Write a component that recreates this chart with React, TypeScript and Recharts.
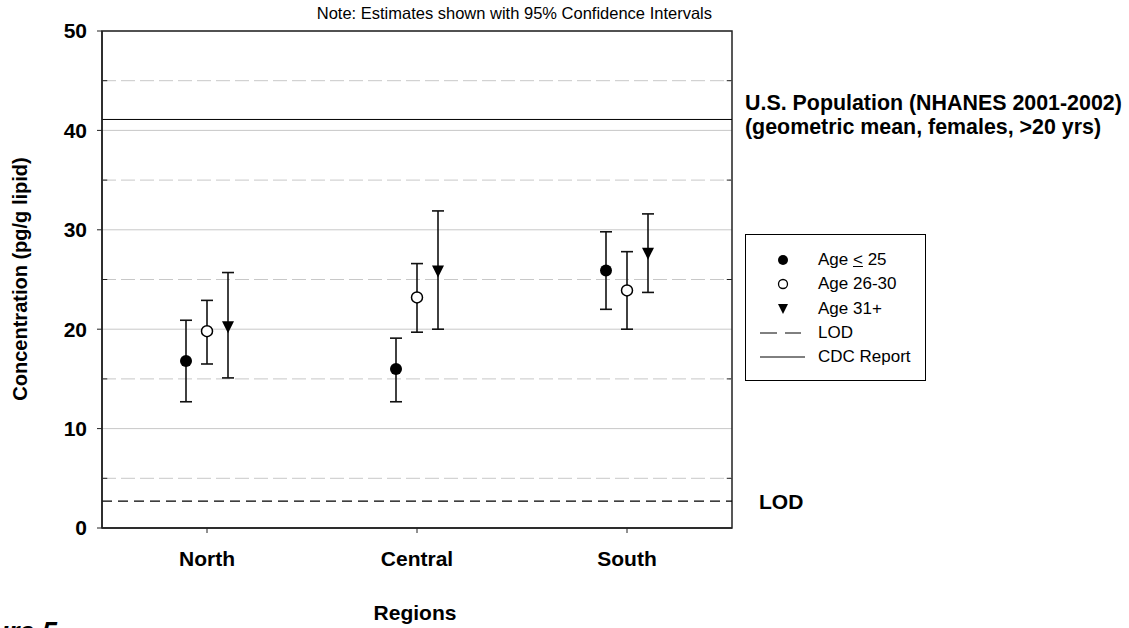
import {
  ComposedChart,
  Scatter,
  ErrorBar,
  XAxis,
  YAxis,
  CartesianGrid,
  ReferenceLine,
  ReferenceArea,
  Legend,
} from "recharts";

const FONT = "'Liberation Sans', Arial, Helvetica, sans-serif";

// categories on the x axis (placed at 1, 2, 3)
const regions = ["North", "Central", "South"];
const regionPositions = [1, 2, 3];

// Age <= 25: geometric mean with 95% CI
const age25Mean = [16.8, 16.0, 25.9];
const age25Low = [12.7, 12.7, 22.0];
const age25High = [20.9, 19.1, 29.8];

// Age 26-30
const age2630Mean = [19.8, 23.2, 23.9];
const age2630Low = [16.5, 19.7, 20.0];
const age2630High = [22.9, 26.6, 27.8];

// Age 31+
const age31Mean = [20.2, 25.8, 27.6];
const age31Low = [15.1, 20.0, 23.7];
const age31High = [25.7, 31.9, 31.6];

// reference values
const cdcReport = 41.1;
const lod = 2.7;

// axis ticks
const yTicks = [0, 10, 20, 30, 40, 50];
const yMinorTicks = [5, 15, 25, 35, 45];
const xDomain = [0.5, 3.5];
const minorTickLen = 0.025; // in x units (~5px)

const build = (mean: number[], low: number[], high: number[], offset: number) =>
  mean.map((m, i) => ({
    x: regionPositions[i] + offset,
    y: m,
    err: [m - low[i], high[i] - m],
  }));

const age25Data = build(age25Mean, age25Low, age25High, -0.1);
const age2630Data = build(age2630Mean, age2630Low, age2630High, 0);
const age31Data = build(age31Mean, age31Low, age31High, 0.1);

const FilledDot = (p: any) => <circle cx={p.cx} cy={p.cy} r={6} fill="#000" />;
const OpenDot = (p: any) => (
  <circle cx={p.cx} cy={p.cy} r={5.5} fill="#fff" stroke="#000" strokeWidth={1.5} />
);
const DownTriangle = (p: any) => (
  <path
    d={`M${p.cx - 6},${p.cy - 6}L${p.cx + 6},${p.cy - 6}L${p.cx},${p.cy + 6}Z`}
    fill="#000"
  />
);

const boldText = { fontFamily: FONT, fontSize: 21, fontWeight: "bold", fill: "#000" };

const CdcLabel = (props: any) => {
  const { x, y, width } = props.viewBox;
  return (
    <text x={x + width + 13} style={{ ...boldText, fontSize: 21.4 } as any}>
      <tspan x={x + width + 13} y={y - 9.5}>U.S. Population (NHANES 2001-2002)</tspan>
      <tspan x={x + width + 13} y={y + 14.5}>(geometric mean, females, &gt;20 yrs)</tspan>
    </text>
  );
};

const LodLabel = (props: any) => {
  const { x, y, width } = props.viewBox;
  return (
    <text x={x + width + 27} y={y + 7.5} style={boldText as any}>
      LOD
    </text>
  );
};

const legendRows = [
  { key: "a", icon: <circle cx={23} cy={12} r={5} fill="#000" />, label: <>Age <u>&lt;</u> 25</> },
  { key: "b", icon: <circle cx={23} cy={12} r={4.5} fill="#fff" stroke="#000" strokeWidth={1.3} />, label: <>Age 26-30</> },
  { key: "c", icon: <path d="M18,7L28,7L23,17Z" fill="#000" />, label: <>Age 31+</> },
  { key: "d", icon: <line x1={0} y1={12} x2={41} y2={12} stroke="#000" strokeDasharray="17 8" />, label: <>LOD</> },
  { key: "e", icon: <line x1={0} y1={12} x2={45} y2={12} stroke="#000" />, label: <>CDC Report</> },
];

const LegendBox = () => (
  <div
    style={{
      width: 181,
      height: 147,
      boxSizing: "border-box",
      border: "1px solid #000",
      background: "#fff",
      paddingTop: 13,
      fontFamily: FONT,
      fontSize: 17,
      color: "#000",
    }}
  >
    {legendRows.map((r) => (
      <div key={r.key} style={{ height: 24.3, display: "flex", alignItems: "center" }}>
        <svg width={46} height={24} style={{ marginLeft: 14, marginRight: 12 }}>
          {r.icon}
        </svg>
        <span style={{ whiteSpace: "nowrap" }}>{r.label}</span>
      </div>
    ))}
  </div>
);

export default function App() {
  return (
    <div style={{ position: "absolute", left: 0, top: 0, width: 1129, height: 628, background: "#fff" }}>
      <ComposedChart
        width={1129}
        height={628}
        margin={{ top: 31, right: 397, bottom: 40, left: 0 }}
      >
        <CartesianGrid vertical={false} stroke="#c8c8c8" />
        {yMinorTicks.map((v) => (
          <ReferenceLine key={v} y={v} stroke="#c8c8c8" strokeDasharray="14 5" />
        ))}
        {yMinorTicks.map((v) => (
          <ReferenceLine
            key={`l${v}`}
            segment={[{ x: xDomain[0], y: v }, { x: xDomain[0] + minorTickLen, y: v }]}
            stroke="#222"
          />
        ))}
        {yMinorTicks.map((v) => (
          <ReferenceLine
            key={`r${v}`}
            segment={[{ x: xDomain[1] - minorTickLen, y: v }, { x: xDomain[1], y: v }]}
            stroke="#222"
          />
        ))}
        <XAxis
          dataKey="x"
          type="number"
          domain={xDomain}
          ticks={regionPositions}
          tickFormatter={(v: number) => regions[v - 1]}
          allowDataOverflow
          height={60}
          tickSize={5}
          tickMargin={18}
          tick={boldText}
          axisLine={{ stroke: "#222", strokeWidth: 1.5 }}
          tickLine={{ stroke: "#222" }}
        />
        <YAxis
          dataKey="y"
          type="number"
          domain={[0, 50]}
          ticks={yTicks}
          width={102}
          tickSize={5}
          tickMargin={10}
          tick={boldText}
          axisLine={{ stroke: "#222", strokeWidth: 1.5 }}
          tickLine={{ stroke: "#222" }}
        />
        <ReferenceLine y={cdcReport} stroke="#000" label={<CdcLabel />} />
        <ReferenceLine y={lod} stroke="#000" strokeWidth={1.3} strokeDasharray="10 6" label={<LodLabel />} />
        <ReferenceArea x1={xDomain[0]} x2={xDomain[1]} y1={0} y2={50} fill="none" stroke="#222" strokeWidth={1.5} />
        <Scatter name="Age <= 25" data={age25Data} shape={FilledDot} isAnimationActive={false}>
          <ErrorBar dataKey="err" direction="y" width={6} stroke="#111" strokeWidth={1.6} />
        </Scatter>
        <Scatter name="Age 26-30" data={age2630Data} shape={OpenDot} isAnimationActive={false}>
          <ErrorBar dataKey="err" direction="y" width={6} stroke="#111" strokeWidth={1.6} />
        </Scatter>
        <Scatter name="Age 31+" data={age31Data} shape={DownTriangle} isAnimationActive={false}>
          <ErrorBar dataKey="err" direction="y" width={6} stroke="#111" strokeWidth={1.6} />
        </Scatter>
        <Legend
          layout="vertical"
          align="center"
          verticalAlign="middle"
          content={<LegendBox />}
          wrapperStyle={{ left: 745, top: 234, width: 181, height: 147 }}
        />
      </ComposedChart>
      <svg
        width={1129}
        height={628}
        style={{ position: "absolute", left: 0, top: 0, overflow: "visible", pointerEvents: "none" }}
      >
        <text x={712} y={19} textAnchor="end" style={{ fontFamily: FONT, fontSize: 16.5, fill: "#000" }}>
          Note: Estimates shown with 95% Confidence Intervals
        </text>
        <text x={415} y={620} textAnchor="middle" style={boldText as any}>
          Regions
        </text>
        <text
          transform="translate(27,279) rotate(-90)"
          textAnchor="middle"
          style={{ fontFamily: FONT, fontSize: 20, fontWeight: "bold", fill: "#000" }}
        >
          Concentration (pg/g lipid)
        </text>
        <text
          x={-48}
          y={641}
          style={{ fontFamily: FONT, fontSize: 27, fontWeight: "bold", fontStyle: "italic", fill: "#000" }}
        >
          Figure 5
        </text>
      </svg>
    </div>
  );
}
